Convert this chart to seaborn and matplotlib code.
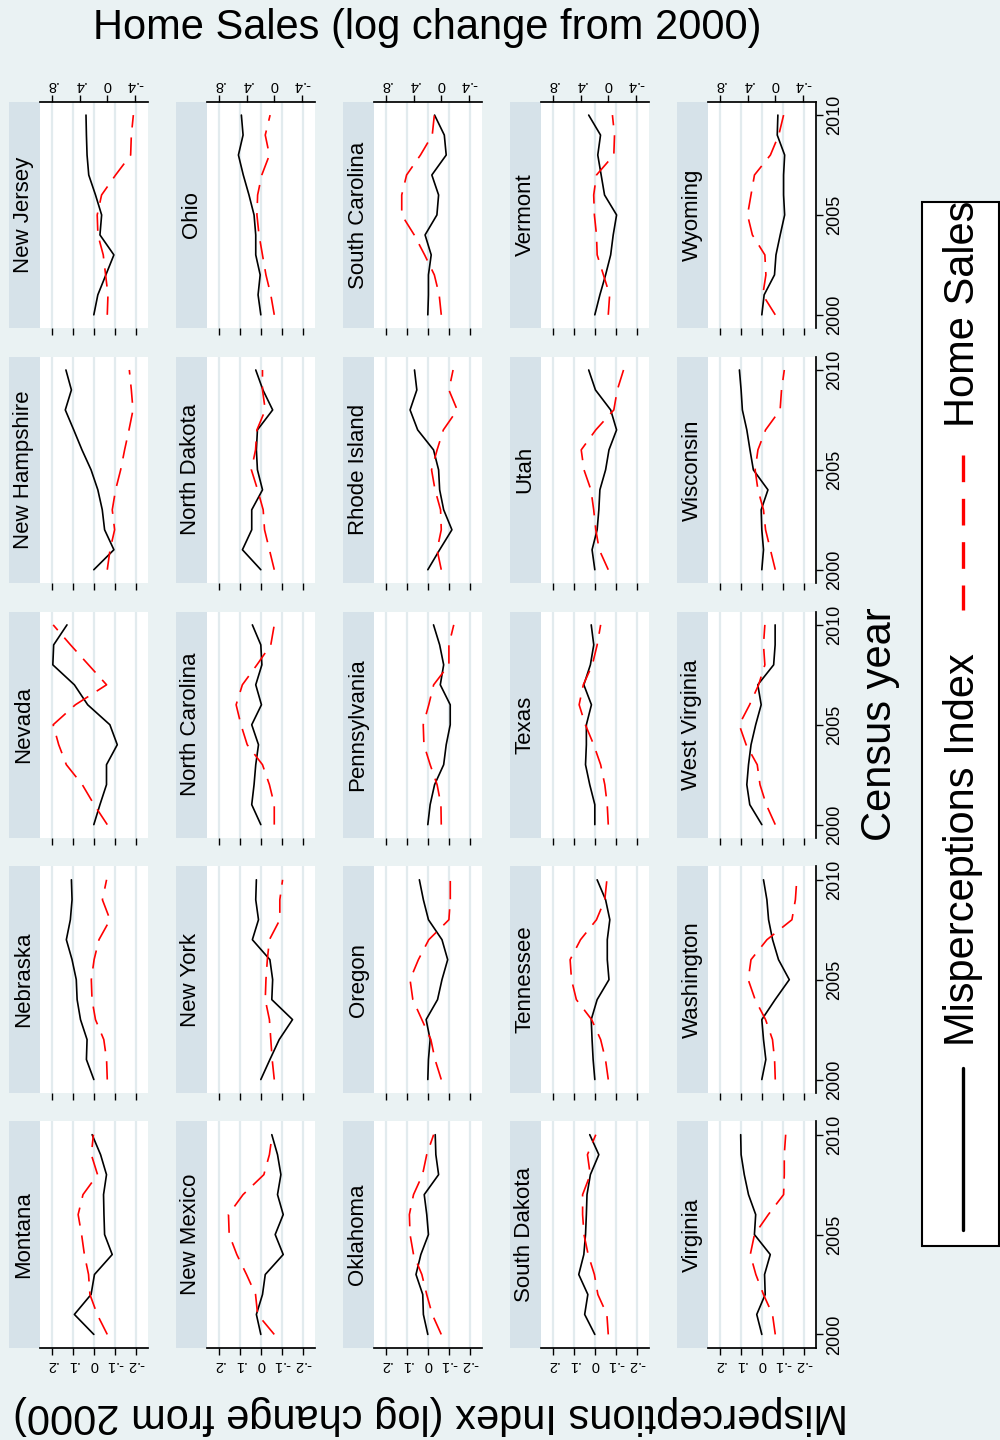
import matplotlib
matplotlib.use("Agg")
import matplotlib.pyplot as plt
from matplotlib.patches import Rectangle
import numpy as np
import pandas as pd
import seaborn as sns

# ---- data ----
years = list(range(2000, 2011))
states = ["Montana", "Nebraska", "Nevada", "New Hampshire", "New Jersey",
          "New Mexico", "New York", "North Carolina", "North Dakota", "Ohio",
          "Oklahoma", "Oregon", "Pennsylvania", "Rhode Island", "South Carolina",
          "South Dakota", "Tennessee", "Texas", "Utah", "Vermont",
          "Virginia", "Washington", "West Virginia", "Wisconsin", "Wyoming"]

misperception = [
    [0, 0.092, 0.013, -0.003, -0.087, -0.051, -0.048, -0.046, -0.060, -0.032, 0.008],
    [0, 0.035, 0.032, 0.063, 0.079, 0.083, 0.103, 0.130, 0.111, 0.103, 0.106],
    [0, -0.029, -0.060, -0.060, -0.111, -0.076, 0.029, 0.092, 0.194, 0.190, 0.127],
    [0, -0.095, -0.051, -0.040, -0.019, 0.013, 0.056, 0.095, 0.135, 0.106, 0.132],
    [0, -0.019, -0.057, -0.095, -0.029, -0.037, -0.008, 0.024, 0.032, 0.035, 0.037],
    [0, 0.021, -0.008, -0.021, -0.106, -0.068, -0.106, -0.079, -0.095, -0.079, -0.052],
    [0, -0.043, -0.087, -0.150, -0.052, -0.056, -0.043, 0.040, 0.011, 0.024, 0.021],
    [0, 0.043, 0.032, 0.024, 0.011, 0.043, -0.003, 0.024, -0.005, 0.000, 0.040],
    [0, 0.087, 0.043, 0.043, -0.008, 0.016, 0.021, 0.016, -0.056, -0.010, 0.024],
    [0, 0.013, 0.003, 0.024, 0.024, 0.032, 0.056, 0.083, 0.106, 0.084, 0.092],
    [0, 0.021, 0.024, 0.056, 0.033, -0.003, 0.005, 0.017, -0.051, -0.038, -0.035],
    [0, -0.003, -0.011, 0.008, -0.046, -0.067, -0.094, -0.067, -0.003, 0.021, 0.040],
    [0, -0.011, -0.032, -0.075, -0.087, -0.106, -0.106, -0.059, -0.075, -0.056, -0.027],
    [0, -0.056, -0.114, -0.075, -0.056, -0.051, -0.027, 0.048, 0.084, 0.052, 0.063],
    [0, -0.003, -0.003, -0.016, 0.013, -0.043, -0.051, -0.019, -0.087, -0.078, -0.032],
    [0, 0.048, 0.033, 0.076, 0.052, 0.044, 0.040, 0.037, 0.021, -0.019, 0.024],
    [0, 0.008, 0.013, 0.017, -0.011, -0.067, -0.059, -0.059, -0.071, -0.051, -0.011],
    [0, 0.000, 0.024, 0.044, 0.040, 0.040, 0.016, 0.052, 0.021, 0.005, 0.017],
    [0, 0.013, -0.011, -0.019, -0.024, -0.051, -0.067, -0.103, -0.075, -0.003, 0.029],
    [0, -0.024, -0.051, -0.075, -0.087, -0.103, -0.046, -0.030, -0.014, -0.027, 0.029],
    [0, 0.024, -0.016, -0.013, -0.040, 0.035, 0.029, 0.063, 0.083, 0.098, 0.100],
    [0, -0.019, -0.008, 0.000, -0.063, -0.130, -0.079, -0.051, -0.032, -0.024, -0.008],
    [0, 0.057, 0.071, 0.063, 0.051, 0.029, 0.003, 0.019, -0.056, -0.063, -0.063],
    [0, -0.008, 0.000, 0.003, -0.029, 0.040, 0.056, 0.071, 0.092, 0.098, 0.106],
    [0, -0.011, -0.060, -0.067, -0.087, -0.108, -0.103, -0.103, -0.108, -0.073, -0.076],
]

home_sales = [
    [0, 0.145, 0.25, 0.27, 0.33, 0.37, 0.42, 0.35, 0.14, 0.23, 0.20],
    [0, 0.01, 0.05, 0.17, 0.22, 0.23, 0.19, 0.12, -0.04, 0.07, 0.01],
    [0, 0.19, 0.36, 0.59, 0.70, 0.78, 0.46, 0.01, 0.27, 0.53, 0.78],
    [0, -0.04, -0.106, -0.072, -0.12, -0.193, -0.25, -0.313, -0.371, -0.347, -0.318],
    [0, -0.01, 0.024, 0.058, 0.135, 0.145, 0.082, -0.12, -0.337, -0.347, -0.376],
    [0, 0.24, 0.27, 0.40, 0.54, 0.65, 0.66, 0.45, 0.15, 0.07, 0.03],
    [0, 0.03, 0.05, 0.07, 0.13, 0.12, 0.10, 0.07, -0.08, -0.08, -0.12],
    [0, 0.00, 0.07, 0.17, 0.39, 0.48, 0.55, 0.46, 0.25, 0.05, 0.00],
    [0, 0.07, 0.14, 0.16, 0.24, 0.33, 0.27, 0.25, 0.13, 0.17, 0.17],
    [0, 0.05, 0.12, 0.17, 0.22, 0.25, 0.24, 0.18, 0.07, 0.13, 0.06],
    [0, 0.13, 0.21, 0.28, 0.40, 0.45, 0.46, 0.40, 0.27, 0.21, 0.11],
    [0, 0.09, 0.15, 0.28, 0.41, 0.45, 0.33, 0.18, -0.11, -0.13, -0.13],
    [0, 0.005, 0.06, 0.16, 0.25, 0.26, 0.18, 0.11, -0.11, -0.11, -0.18],
    [0, 0.06, 0.00, 0.01, 0.09, 0.14, 0.06, -0.03, -0.23, -0.11, -0.17],
    [0, 0.03, 0.10, 0.24, 0.39, 0.57, 0.57, 0.50, 0.30, 0.13, 0.10],
    [0, 0.02, 0.15, 0.20, 0.29, 0.35, 0.37, 0.37, 0.26, 0.30, 0.18],
    [0, 0.04, 0.11, 0.24, 0.46, 0.53, 0.55, 0.40, 0.17, 0.05, 0.02],
    [0, 0.015, 0.05, 0.11, 0.21, 0.33, 0.42, 0.36, 0.23, 0.16, 0.11],
    [0, 0.13, 0.18, 0.21, 0.25, 0.35, 0.39, 0.18, -0.08, -0.13, -0.22],
    [0, -0.02, 0.07, 0.16, 0.17, 0.20, 0.21, 0.17, -0.08, -0.09, -0.06],
    [0, 0.04, 0.17, 0.28, 0.36, 0.30, 0.10, -0.12, -0.13, -0.13, -0.15],
    [0, 0.01, 0.04, 0.14, 0.29, 0.39, 0.35, 0.12, -0.24, -0.29, -0.31],
    [0, 0.13, 0.22, 0.26, 0.42, 0.52, 0.37, 0.24, 0.15, 0.17, 0.15],
    [0, 0.07, 0.14, 0.17, 0.25, 0.29, 0.25, 0.14, -0.07, -0.09, -0.13],
    [0, 0.18, 0.135, 0.15, 0.33, 0.40, 0.35, 0.30, 0.07, -0.05, -0.12],
]

mis_ticks = [0.2, 0.1, 0, -0.1, -0.2]
mis_labels = [".2", ".1", "0", "-.1", "-.2"]
home_ticks = [0.8, 0.4, 0, -0.4]
home_labels = [".8", ".4", "0", "-.4"]
year_ticks = [2000, 2005, 2010]

rows = []
for s, mv, hv in zip(states, misperception, home_sales):
    for y, m, h in zip(years, mv, hv):
        rows.append((s, y, m, h))
df = pd.DataFrame(rows, columns=["state", "year", "misperceptions", "home_sales"])

sns.set_theme(style="white")
plt.rcParams["font.family"] = ["Liberation Sans", "DejaVu Sans"]
plt.rcParams["text.color"] = "black"
plt.rcParams["xtick.color"] = "black"
plt.rcParams["ytick.color"] = "black"

BG = "#EAF2F3"
STRIP = "#D6E2E9"
GRID = "#E2EBEE"
W, H = 1000, 1440

fig = plt.figure(figsize=(10, 14.4), dpi=100, facecolor=BG)

# pixel canvas for strips, titles and legend
canvas = fig.add_axes([0, 0, 1, 1], zorder=-1)
canvas.set_xlim(0, W)
canvas.set_ylim(H, 0)
canvas.set_axis_off()


def px_axes(x0, y0, w, h):
    return fig.add_axes([x0 / W, 1 - (y0 + h) / H, w / W, h / H])


PW, PH = 108, 226.5
for r in range(5):
    for c in range(5):
        state = states[c * 5 + (4 - r)]
        d = df[df.state == state]
        x0 = 39.5 + 167 * c
        y0 = 101.7 + 254.9 * r

        canvas.add_patch(Rectangle((x0 - 31, y0), 31, PH, color=STRIP, lw=0))
        canvas.text(x0 - 15.5, y0 + PH / 2, state, rotation=90,
                    ha="center", va="center", fontsize=16)

        ax = px_axes(x0, y0, PW, PH)
        ax.set_facecolor("white")
        sns.lineplot(data=d, x="misperceptions", y="year", sort=False,
                     estimator=None, color="black", linewidth=1.2, ax=ax)
        ax.set_xlim(0.257, -0.254)
        ax.set_ylim(1999.33, 2010.67)
        ax.set_xticks(mis_ticks)
        ax.set_xticklabels(mis_labels)
        ax.set_yticks(year_ticks)
        ax.set_yticklabels([str(y) for y in year_ticks], va="center")
        ax.yaxis.tick_right()
        ax.grid(axis="x", color=GRID, lw=1.6)
        ax.grid(axis="y", visible=False)
        ax.set_axisbelow(True)
        ax.set_xlabel("")
        ax.set_ylabel("")
        for sp in ax.spines.values():
            sp.set_visible(False)
        ax.tick_params(axis="x", bottom=(r == 4), labelbottom=(r == 4),
                       length=5, width=1, color="black", labelsize=10.5,
                       labelrotation=180, pad=2, labelcolor="black")
        ax.tick_params(axis="y", left=False, labelleft=False,
                       right=(c == 4), labelright=(c == 4),
                       length=5, width=1, color="black", labelsize=13,
                       labelrotation=90, pad=3, labelcolor="black")
        if r == 4:
            ax.spines["bottom"].set_visible(True)
            ax.spines["bottom"].set_color("black")
        if c == 4:
            ax.spines["right"].set_visible(True)
            ax.spines["right"].set_color("black")

        ax2 = ax.twiny()
        sns.lineplot(data=d, x="home_sales", y="year", sort=False,
                     estimator=None, color="red", linewidth=1.2,
                     linestyle=(0, (11, 6)), ax=ax2)
        ax2.set_xlim(0.977, -0.58)
        ax2.set_xticks(home_ticks)
        ax2.set_xticklabels(home_labels)
        ax2.set_xlabel("")
        for sp in ax2.spines.values():
            sp.set_visible(False)
        ax2.tick_params(axis="x", top=(r == 0), labeltop=(r == 0),
                        bottom=False, labelbottom=False,
                        length=5, width=1, color="black", labelsize=10.5,
                        labelrotation=180, pad=2, labelcolor="black")
        if r == 0:
            ax2.spines["top"].set_visible(True)
            ax2.spines["top"].set_color("black")

# titles
canvas.text(427, 28, "Home Sales (log change from 2000)",
            ha="center", va="center", fontsize=30)
canvas.text(430, 1415, "Misperceptions Index (log change from 2000)",
            rotation=180, ha="center", va="center", fontsize=30)
canvas.text(880, 724, "Census year", rotation=90,
            ha="center", va="center", fontsize=30)

# legend
canvas.add_patch(Rectangle((921.7, 202), 76.8, 1044, facecolor="white",
                           edgecolor="black", lw=1.5))
canvas.plot([963, 963], [1068, 1230], color="black", lw=2.4)
canvas.text(963, 850, "Misperceptions Index", rotation=90,
            ha="center", va="center", fontsize=30)
canvas.plot([963, 963], [455, 610], color="red", lw=2.4, linestyle=(0, (8, 5)))
canvas.text(963, 314, "Home Sales", rotation=90,
            ha="center", va="center", fontsize=30)

fig.savefig("out.png", dpi=100, facecolor=BG)
